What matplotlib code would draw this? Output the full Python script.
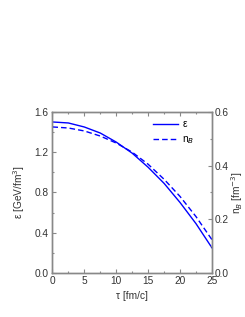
import matplotlib
matplotlib.use("Agg")
import matplotlib.pyplot as plt
from matplotlib.ticker import MultipleLocator

tau = [0, 2.5, 5, 7.5, 10, 12.5, 15, 17.5, 20, 22.5, 25]
eps = [1.50, 1.49, 1.45, 1.39, 1.30, 1.19, 1.05, 0.89, 0.70, 0.49, 0.25]
nB = [0.544, 0.540, 0.529, 0.510, 0.484, 0.450, 0.405, 0.349, 0.285, 0.210, 0.124]

plt.rcParams['font.family'] = ['Liberation Sans', 'DejaVu Sans']
fs = 7.3
spine_c = '#888888'
txt_c = '#333333'

fig = plt.figure(figsize=(2.45, 3.17), dpi=100)
ax = fig.add_axes([0.214, 0.139, 0.651, 0.508])
ax2 = ax.twinx()

l1, = ax.plot(tau, eps, color='#0000ff', lw=1.0, label='ε')
l2, = ax2.plot(tau, nB, color='#0000ff', lw=1.0, ls=(0, (4, 2.2)), label='n$_B$')

ax.set_xlim(0, 25)
ax.set_ylim(0, 1.6)
ax2.set_ylim(0, 0.6)
ax.xaxis.set_major_locator(MultipleLocator(5))
ax.xaxis.set_minor_locator(MultipleLocator(2.5))
ax.yaxis.set_major_locator(MultipleLocator(0.4))
ax.yaxis.set_minor_locator(MultipleLocator(0.2))
ax2.yaxis.set_major_locator(MultipleLocator(0.2))
ax2.yaxis.set_minor_locator(MultipleLocator(0.1))

for a in (ax, ax2):
    for s in a.spines.values():
        s.set_color(spine_c)
        s.set_linewidth(1.0)
    a.tick_params(which='both', direction='in', colors=spine_c, labelcolor=txt_c, labelsize=fs, width=0.8)
    a.tick_params(which='major', length=3)
    a.tick_params(which='minor', length=1.5)
ax.tick_params(axis='x', which='both', top=True, pad=2)
ax.tick_params(axis='y', pad=3)
ax2.tick_params(axis='y', pad=2)
ax.yaxis.set_major_formatter(plt.FormatStrFormatter('%.1f'))
ax2.yaxis.set_major_formatter(plt.FormatStrFormatter('%.1f'))

ax.set_xlabel('τ [fm/c]', fontsize=fs, color=txt_c, labelpad=4)
ax.set_ylabel('ε [GeV/fm$^3$]', fontsize=fs, color=txt_c, labelpad=5)
ax2.set_ylabel('n$_B$ [fm$^{-3}$]', fontsize=fs, color=txt_c, labelpad=0)

ax.legend(handles=[l1, l2], loc='upper left', bbox_to_anchor=(0.605, 0.98),
          frameon=False, fontsize=fs, handlelength=2.5, borderaxespad=0.0,
          labelspacing=0.5, handletextpad=0.4)

fig.savefig('out.png', dpi=100)
